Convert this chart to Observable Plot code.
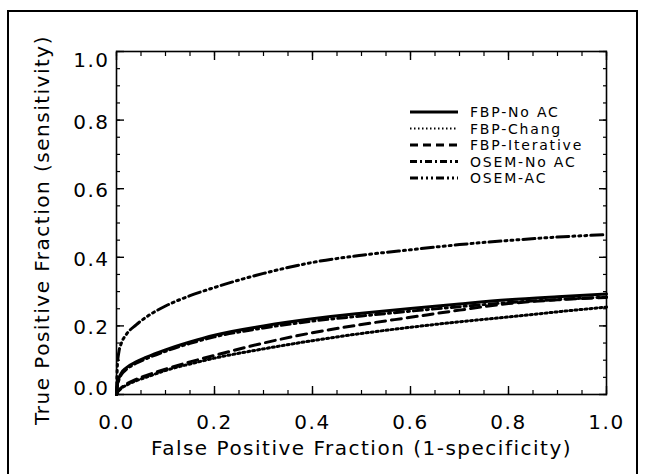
<!DOCTYPE html>
<html>
<head>
<meta charset="utf-8">
<script src="https://cdn.jsdelivr.net/npm/d3@7"></script>
<script src="https://cdn.jsdelivr.net/npm/@observablehq/plot@0.6"></script>
<style>
  html, body { margin: 0; padding: 0; background: #fff; overflow: hidden; }
  #wrap { position: relative; width: 645px; height: 474px; overflow: hidden; background: #fff; }
  #border { position: absolute; left: 7px; top: 10px; width: 631px; height: 500px;
            border: 2px solid #000; border-bottom: none; box-sizing: border-box; pointer-events: none; }
  #legend { position: absolute; left: 0; top: 0; pointer-events: none; }
</style>
</head>
<body>
<div id="wrap"><div id="border"></div></div>
<script>
// ---- data ----
const fpf = [0, 0.002, 0.005, 0.01, 0.02, 0.04, 0.06, 0.1, 0.15, 0.2, 0.3, 0.4, 0.5, 0.6, 0.7, 0.8, 0.9, 1.0];
const fbpNoAC   = [0, 0.030, 0.048, 0.063, 0.078, 0.095, 0.108, 0.130, 0.153, 0.173, 0.200, 0.221, 0.237, 0.251, 0.264, 0.276, 0.285, 0.293];
const fbpChang  = [0, 0.005, 0.011, 0.018, 0.027, 0.040, 0.050, 0.070, 0.089, 0.106, 0.133, 0.157, 0.178, 0.196, 0.212, 0.226, 0.241, 0.255];
const fbpIter   = [0, 0.006, 0.013, 0.020, 0.030, 0.044, 0.055, 0.074, 0.095, 0.114, 0.150, 0.180, 0.204, 0.225, 0.246, 0.265, 0.276, 0.283];
const osemNoAC  = [0, 0.025, 0.043, 0.058, 0.073, 0.091, 0.104, 0.126, 0.149, 0.168, 0.194, 0.214, 0.229, 0.243, 0.256, 0.268, 0.277, 0.284];
const osemAC    = [0, 0.090, 0.125, 0.150, 0.175, 0.203, 0.225, 0.258, 0.288, 0.312, 0.353, 0.385, 0.406, 0.422, 0.437, 0.449, 0.459, 0.466];
const seriesNames = ["FBP-No AC", "FBP-Chang", "FBP-Iterative", "OSEM-No AC", "OSEM-AC"];
const seriesValues = [fbpNoAC, fbpChang, fbpIter, osemNoAC, osemAC];
const majorTicks = [0, 0.2, 0.4, 0.6, 0.8, 1.0];
const tickLabels = ["0.0", "0.2", "0.4", "0.6", "0.8", "1.0"];
const xTitle = "False Positive Fraction (1-specificity)";
const yTitle = "True Positive Fraction (sensitivity)";

// ---- styles ----
const dashes = [null, "2 3", "10 6", "9 4 2 4", "12 4 2 4 2 4 2 4"];
const legendDashes = [null, "1.5 2.5", "8 5", "7 3 2 3", "8 3 2 3 2 3 2 3"];
const minorTicks = d3.range(0, 1.0001, 0.05).map(v => +v.toFixed(2));

const rows = [];
seriesNames.forEach((name, i) => fpf.forEach((x, j) => rows.push({x, y: seriesValues[i][j], s: name})));
const tickRows = majorTicks.map((v, i) => ({v, label: tickLabels[i]}));

const lineMarks = seriesNames.map((name, i) =>
  Plot.line(rows.filter(r => r.s === name), {
    x: "x", y: "y", stroke: "#000", strokeWidth: 3,
    strokeDasharray: dashes[i], curve: "monotone-x", strokeLinejoin: "round"
  })
);

const chart = Plot.plot({
  width: 645, height: 474,
  marginLeft: 116, marginRight: 39, marginTop: 51, marginBottom: 80,
  x: {domain: [0, 1]},
  y: {domain: [0, 1]},
  style: {fontFamily: "DejaVu Sans", fontSize: "20px", color: "#000", background: "#fff", letterSpacing: "1.5px"},
  marks: [
    ...lineMarks,
    Plot.frame({stroke: "#000", strokeWidth: 1.6}),
    // inward ticks on all four sides
    Plot.axisX({anchor: "bottom", ticks: majorTicks, tickSize: -8, tickFormat: () => "", label: null, strokeWidth: 1.4}),
    Plot.axisX({anchor: "bottom", ticks: minorTicks, tickSize: -4, tickFormat: () => "", label: null, strokeWidth: 1.2}),
    Plot.axisX({anchor: "top", ticks: majorTicks, tickSize: -8, tickFormat: () => "", label: null, strokeWidth: 1.4}),
    Plot.axisX({anchor: "top", ticks: minorTicks, tickSize: -4, tickFormat: () => "", label: null, strokeWidth: 1.2}),
    Plot.axisY({anchor: "left", ticks: majorTicks, tickSize: -8, tickFormat: () => "", label: null, strokeWidth: 1.4}),
    Plot.axisY({anchor: "left", ticks: minorTicks, tickSize: -4, tickFormat: () => "", label: null, strokeWidth: 1.2}),
    Plot.axisY({anchor: "right", ticks: majorTicks, tickSize: -8, tickFormat: () => "", label: null, strokeWidth: 1.4}),
    Plot.axisY({anchor: "right", ticks: minorTicks, tickSize: -4, tickFormat: () => "", label: null, strokeWidth: 1.2}),
    // tick labels
    Plot.text(tickRows, {x: "v", text: "label", frameAnchor: "bottom", dy: 28, lineAnchor: "middle", fontSize: 20}),
    Plot.text(tickRows.filter(d => d.v > 0 && d.v < 1), {y: "v", text: "label", frameAnchor: "left", textAnchor: "end", dx: -7, dy: 2, fontSize: 20}),
    Plot.text(tickRows.filter(d => d.v === 1), {y: "v", text: "label", frameAnchor: "left", textAnchor: "end", dx: -7, dy: 9, fontSize: 20}),
    Plot.text(tickRows.filter(d => d.v === 0), {y: "v", text: "label", frameAnchor: "left", textAnchor: "end", dx: -7, dy: -6, fontSize: 20}),
    // axis titles
    Plot.text([xTitle], {text: d => d, frameAnchor: "bottom", dy: 54, lineAnchor: "middle", fontSize: 20}),
    Plot.text([yTitle], {text: d => d, frameAnchor: "left", textAnchor: "middle", dx: -74, dy: 7, rotate: -90, lineAnchor: "middle", fontSize: 20})
  ]
});
document.getElementById("wrap").prepend(chart);

// ---- legend overlay ----
const leg = d3.select("#wrap").append("svg").attr("id", "legend").attr("width", 645).attr("height", 474);
const legRowY = d3.scaleLinear().domain([0, 1]).range([112, 128.5]);
seriesNames.forEach((name, i) => {
  const y = legRowY(i);
  leg.append("line").attr("x1", 410).attr("x2", 458).attr("y1", y).attr("y2", y)
    .attr("stroke", "#000").attr("stroke-width", i === 1 ? 2.2 : 3)
    .attr("stroke-dasharray", legendDashes[i]);
  leg.append("text").attr("x", 470).attr("y", y + 5).text(name)
    .attr("font-family", "DejaVu Sans").attr("font-size", 14).attr("letter-spacing", "1.8px").attr("fill", "#000");
});
</script>
</body>
</html>
